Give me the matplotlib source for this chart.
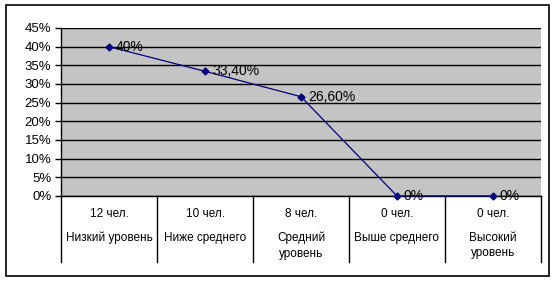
import matplotlib
matplotlib.use('Agg')
import matplotlib.pyplot as plt
from matplotlib.patches import Rectangle
from matplotlib.ticker import MultipleLocator, FuncFormatter

plt.rcParams['font.family'] = ['Liberation Sans', 'DejaVu Sans']

# данные
kategorii = ['Низкий уровень', 'Ниже среднего', 'Средний\nуровень',
             'Выше среднего', 'Высокий\nуровень']
chel = ['12 чел.', '10 чел.', '8 чел.', '0 чел.', '0 чел.']
procent = [40, 33.4, 26.6, 0, 0]
podpisi = ['40%', '33,40%', '26,60%', '0%', '0%']

fig = plt.figure(figsize=(5.59, 2.82), dpi=100)
fig.patches.append(Rectangle((6 / 559, 1 - 276 / 282), 543 / 559, 271 / 282,
                             transform=fig.transFigure, fill=False,
                             edgecolor='black', linewidth=1.2))

ax = fig.add_axes([61 / 559, 1 - 196 / 282, 480 / 559, 168 / 282])
ax.set_facecolor('#c4c4c4')

x = list(range(len(procent)))
ax.plot(x, procent, color='#000080', linewidth=0.9, marker='D', markersize=3.5,
        markerfacecolor='#000080', markeredgecolor='#000080', clip_on=False, zorder=3)

for xi, yi, s in zip(x, procent, podpisi):
    ax.annotate(s, (xi, yi), xytext=(5, 0), textcoords='offset points',
                ha='left', va='center', fontsize=10, color='#000000', zorder=4)

ax.set_xlim(-0.5, len(procent) - 0.5)
ax.set_ylim(0, 45)
ax.yaxis.set_major_locator(MultipleLocator(5))
ax.yaxis.set_major_formatter(FuncFormatter(lambda v, p: f'{int(v)}%'))
ax.yaxis.grid(True, color='black', linewidth=1)
ax.set_axisbelow(True)
ax.tick_params(axis='y', labelsize=9.5, length=4, width=1, direction='out', pad=3)
ax.set_xticks([])

for sp in ['top', 'right']:
    ax.spines[sp].set_visible(False)
ax.spines['left'].set_linewidth(1)
ax.spines['bottom'].set_linewidth(1)

# таблица категорий под осью
niz = -66 / 168
for i in range(len(procent) + 1):
    ax.plot([i - 0.5, i - 0.5], [0, niz], color='black', linewidth=1,
            transform=ax.get_xaxis_transform(), clip_on=False)
for xi, c, k in zip(x, chel, kategorii):
    ax.text(xi, -18 / 168, c, ha='center', va='center', fontsize=8.5,
            transform=ax.get_xaxis_transform())
    ax.text(xi, -36 / 168, k, ha='center', va='top', fontsize=8.5,
            linespacing=1.35, transform=ax.get_xaxis_transform())

fig.savefig('out.png', dpi=100)
